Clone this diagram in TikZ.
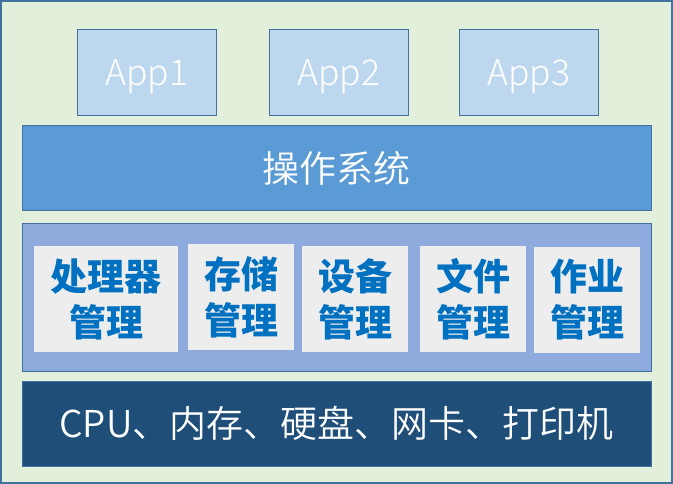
\documentclass[tikz,border=0pt]{standalone}
\usepackage{fontspec}
\setmainfont{Noto Sans CJK SC}
\newfontfamily\lightf{Noto Sans CJK SC Light}
\newfontfamily\demif{Noto Sans CJK SC DemiLight}
\definecolor{bgG}{HTML}{E2EFDA}
\definecolor{edgeB}{HTML}{41719C}
\definecolor{appB}{HTML}{BDD7EE}
\definecolor{osB}{HTML}{5B9BD5}
\definecolor{midB}{HTML}{8FAADC}
\definecolor{cellG}{HTML}{EDEDED}
\definecolor{hwB}{HTML}{1F4E79}
\definecolor{txtB}{HTML}{0070C0}
\begin{document}
\begin{tikzpicture}[x=1pt,y=-1pt,
  layer/.style={draw=edgeB,line width=1pt,inner sep=0pt,minimum width=629pt},
  appbox/.style={draw=edgeB,line width=1.3pt,fill=appB,inner sep=0pt,minimum width=139pt,minimum height=86pt,text height=27pt,text depth=0pt,text=white,font=\lightf\fontsize{35.5}{38}\selectfont},
  cell/.style={fill=cellG,inner sep=0pt,minimum width=106pt,minimum height=106pt,text=txtB,align=center,font=\fontsize{37}{46}\selectfont\bfseries}]
\useasboundingbox (0,0) rectangle (673,484);
\node[draw=edgeB,line width=2pt,fill=bgG,inner sep=0pt,minimum width=671pt,minimum height=482pt] (frame) at (336.5,242) {};
\node[appbox] (app1) at (147,72.5) {App1};
\node[appbox] (app2) at (339,72.5) {App2};
\node[appbox] (app3) at (529,72.5) {App3};
\node[layer,fill=osB,minimum height=85pt,text=white,font=\demif\fontsize{37}{40}\selectfont] (os) at (336.5,168.5) {操作系统};
\node[layer,fill=midB,minimum height=147pt] (mgr) at (336.5,297.5) {};
\node[cell,minimum width=144pt] (cpu) at (106,299) {处理器\\管理};
\node[cell] (mem) at (241,297) {存储\\管理};
\node[cell] (dev) at (355,299) {设备\\管理};
\node[cell] (file) at (473,299) {文件\\管理};
\node[cell] (job) at (587,300) {作业\\管理};
\node[layer,fill=hwB,minimum height=85pt,text=white,font=\demif\fontsize{37}{40}\selectfont] (hw) at (336.5,423.5) {CPU、内存、硬盘、网卡、打印机};
\end{tikzpicture}
\end{document}
